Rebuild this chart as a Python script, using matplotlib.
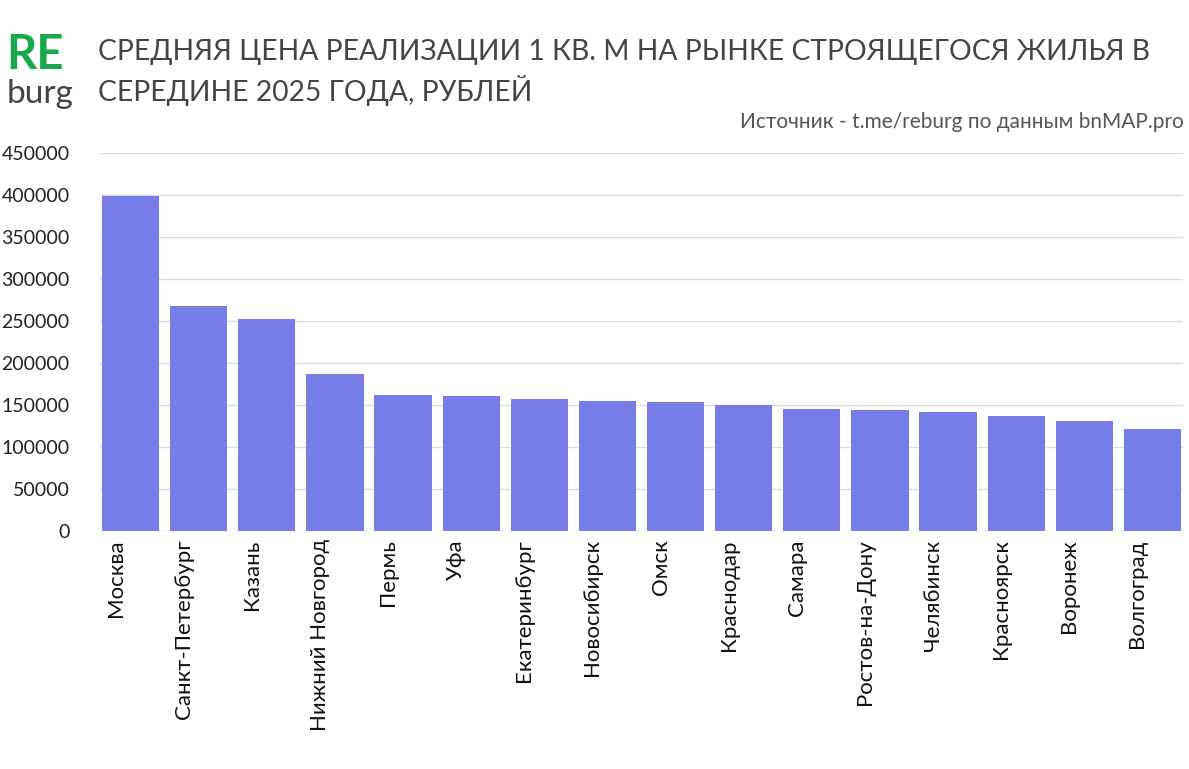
import matplotlib
matplotlib.use("Agg")
import matplotlib.pyplot as plt

cities = ["Москва", "Санкт-Петербург", "Казань", "Нижний Новгород", "Пермь", "Уфа",
          "Екатеринбург", "Новосибирск", "Омск", "Краснодар", "Самара", "Ростов-на-Дону",
          "Челябинск", "Красноярск", "Воронеж", "Волгоград"]
prices = [399000, 267500, 252000, 187500, 162500, 161000, 157500, 155000, 153000, 150500,
          145500, 144500, 142000, 137500, 131500, 122000]
yticks = [0, 50000, 100000, 150000, 200000, 250000, 300000, 350000, 400000, 450000]

plt.rcParams["font.family"] = "Lato"
fig = plt.figure(figsize=(11.89, 7.69), dpi=100)
ax = fig.add_axes([100/1189, 1-531/769, 1083/1189, 378/769])
x = list(range(len(cities)))
ax.bar(x, prices, width=0.84, color="#767de8", zorder=2)
ax.set_xlim(-0.45, len(cities) - 0.55)
ax.set_ylim(0, 450000)
ax.set_yticks(yticks)
ax.set_yticklabels([str(v) for v in yticks], fontsize=14, color="#222222")
ax.set_xticks([i - 0.22 for i in x])
ax.set_xticklabels(cities, rotation=90, fontsize=16, color="#111111")
ax.grid(axis="y", color="#dddddd", lw=1, zorder=0)
for s in ax.spines.values():
    s.set_visible(False)
ax.tick_params(length=0, pad=6)
ax.tick_params(axis="y", pad=22)

fig.text(6/1189, 1-69/769, "RE", fontsize=34, fontweight="bold", color="#1aa84f", va="baseline")
fig.text(7/1189, 1-103/769, "burg", fontsize=24, color="#444444", va="baseline")
fig.text(98/1189, 1-60/769, "СРЕДНЯЯ ЦЕНА РЕАЛИЗАЦИИ 1 КВ. М НА РЫНКЕ СТРОЯЩЕГОСЯ ЖИЛЬЯ В",
         fontsize=20.3, color="#444444", va="baseline")
fig.text(98/1189, 1-101/769, "СЕРЕДИНЕ 2025 ГОДА, РУБЛЕЙ", fontsize=20.3, color="#444444", va="baseline")
fig.text(1184/1189, 1-128/769, "Источник - t.me/reburg по данным bnMAP.pro", fontsize=15,
         color="#555555", ha="right", va="baseline")
fig.savefig("out.png", dpi=100)
